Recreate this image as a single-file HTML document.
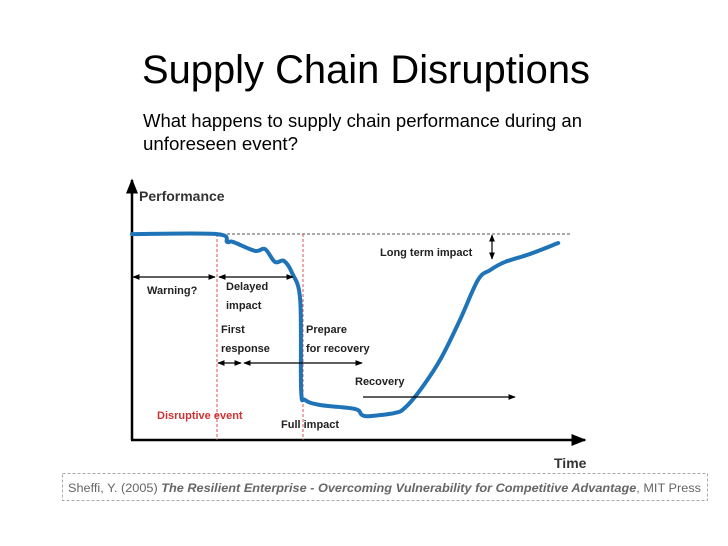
<!DOCTYPE html>
<html><head><meta charset="utf-8"><style>
html,body{margin:0;padding:0;background:#fff}
svg{display:block}
text{font-family:"Liberation Sans",sans-serif}
</style></head><body>
<svg id="chart" width="728" height="546" viewBox="0 0 728 546" xmlns="http://www.w3.org/2000/svg">
<defs>
<marker id="ah" viewBox="0 0 10 10" refX="9" refY="5" markerWidth="6" markerHeight="6" orient="auto-start-reverse"><path d="M0,1 L10,5 L0,9 z" fill="#000"/></marker>
</defs>
<text x="142" y="83" font-size="40" textLength="448" lengthAdjust="spacingAndGlyphs" fill="#000">Supply Chain Disruptions</text>
<text x="143" y="127" font-size="18" textLength="439" lengthAdjust="spacingAndGlyphs" fill="#000">What happens to supply chain performance during an</text>
<text x="143" y="150" font-size="18" textLength="155" lengthAdjust="spacingAndGlyphs" fill="#000">unforeseen event?</text>

<line x1="132" y1="440" x2="132" y2="180" stroke="#000" stroke-width="2.5" marker-end="url(#ah)"/>
<line x1="131" y1="440" x2="585" y2="440" stroke="#000" stroke-width="2.5" marker-end="url(#ah)"/>
<text x="139" y="201" font-size="14" font-weight="bold" fill="#333">Performance</text>
<text x="554" y="468" font-size="14" font-weight="bold" fill="#333">Time</text>

<line x1="217" y1="234" x2="570" y2="234" stroke="#555" stroke-width="1" stroke-dasharray="3,2"/>
<line x1="217" y1="234" x2="217" y2="440" stroke="#d55" stroke-width="1" stroke-dasharray="3,2"/>
<line x1="303" y1="234" x2="303" y2="440" stroke="#d55" stroke-width="1" stroke-dasharray="3,2"/>

<g id="curve"></g>

<line x1="133" y1="277" x2="215" y2="277" stroke="#000" stroke-width="1.2" marker-start="url(#ah)" marker-end="url(#ah)"/>
<line x1="219" y1="277" x2="293" y2="277" stroke="#000" stroke-width="1.2" marker-start="url(#ah)" marker-end="url(#ah)"/>
<line x1="218" y1="363" x2="241" y2="363" stroke="#000" stroke-width="1.2" marker-start="url(#ah)" marker-end="url(#ah)"/>
<line x1="244" y1="363" x2="362" y2="363" stroke="#000" stroke-width="1.2" marker-start="url(#ah)" marker-end="url(#ah)"/>
<line x1="363" y1="397" x2="515" y2="397" stroke="#000" stroke-width="1.2" marker-end="url(#ah)"/>
<line x1="492" y1="235" x2="492" y2="259" stroke="#000" stroke-width="1.2" marker-start="url(#ah)" marker-end="url(#ah)"/>

<g font-size="11" font-weight="bold" fill="#222">
<text x="147" y="294">Warning?</text>
<text x="226" y="290">Delayed</text>
<text x="226" y="309">impact</text>
<text x="221" y="333">First</text>
<text x="221" y="352">response</text>
<text x="306" y="333">Prepare</text>
<text x="306" y="352">for recovery</text>
<text x="355" y="385">Recovery</text>
<text x="380" y="256">Long term impact</text>
<text x="281" y="428">Full impact</text>
<text x="157" y="419" fill="#c33">Disruptive event</text>
</g>

<rect x="62.5" y="473.5" width="645" height="27" fill="none" stroke="#aaa" stroke-dasharray="3,2"/>
<text x="68" y="492" font-size="11.5" fill="#666" textLength="633" lengthAdjust="spacingAndGlyphs">Sheffi, Y. (2005) <tspan font-weight="bold" font-style="italic">The Resilient Enterprise - Overcoming Vulnerability for Competitive Advantage</tspan>, MIT Press</text>
</svg>
<script>
const timeValues = [0, 18.8, 21.1, 22.4, 27.3, 29.5, 31.7, 33.7, 35.5, 37.3, 37.5, 38.4, 41.7, 49.4, 51.0, 52.8, 58.3, 60.5, 63.9, 68.3, 72.7, 76.7, 79.4, 82.7, 88.2, 94.5];
const performanceValues = [78.3, 78.3, 75.3, 75.3, 71.9, 72.6, 67.7, 68.1, 63.5, 53.2, 19.0, 15.2, 13.3, 11.8, 9.5, 9.1, 10.3, 12.2, 19.0, 30.4, 45.6, 60.8, 64.6, 67.7, 70.7, 74.9];
function xScale(t){ return 132 + t * 4.51; }
function yScale(p){ return 440 - p * 2.63; }
const pts = timeValues.map((t,i)=>[xScale(t), yScale(performanceValues[i])]);
let d = 'M' + pts[0][0] + ',' + pts[0][1];
for (let i=0;i<pts.length-1;i++){
  const p0 = pts[Math.max(0,i-1)], p1 = pts[i], p2 = pts[i+1], p3 = pts[Math.min(pts.length-1,i+2)];
  const c1x = p1[0]+(p2[0]-p0[0])/6, c1y = p1[1]+(p2[1]-p0[1])/6;
  const c2x = p2[0]-(p3[0]-p1[0])/6, c2y = p2[1]-(p3[1]-p1[1])/6;
  d += ' C'+c1x+','+c1y+' '+c2x+','+c2y+' '+p2[0]+','+p2[1];
}
const path = document.createElementNS('http://www.w3.org/2000/svg','path');
path.setAttribute('d', d);
path.setAttribute('fill','none');
path.setAttribute('stroke','#1f73b7');
path.setAttribute('stroke-width','4');
path.setAttribute('stroke-linejoin','round');
path.setAttribute('stroke-linecap','round');


document.getElementById('curve').appendChild(path);
</script>
</body></html>
